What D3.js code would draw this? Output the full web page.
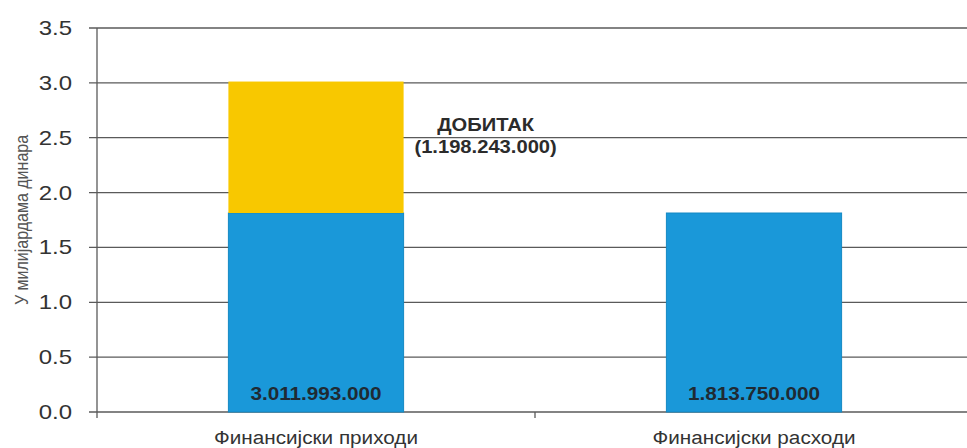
<!DOCTYPE html>
<html lang="sr">
<head>
    <meta charset="UTF-8">
    <title>Финансијски приходи и расходи</title>
    <script src="https://cdn.jsdelivr.net/npm/d3@7"></script>
    <style>
        body{ margin: 0; background: #fff; }
        svg{ display: block; font-family: Arial, "Liberation Sans", sans-serif; }
        .grid line{ stroke: #5a5a5a; stroke-width: 1.3; }
    </style>
</head>
<body>
    <svg id="main-svg" width="967" height="448"></svg>

    <script>
        // data (u milijardama dinara)
        const categories = ['Финансијски приходи', 'Финансијски расходи'];
        const baseValues = [1.81375, 1.81375];       // plavi deo
        const profitValues = [1.198243, 0];          // zuti deo (dobitak)
        const barLabels = ['3.011.993.000', '1.813.750.000'];
        const profitLabel = ['ДОБИТАК', '(1.198.243.000)'];
        const yTicks = [0, 0.5, 1, 1.5, 2, 2.5, 3, 3.5];
        const yTitle = 'У милијардама динара';

        const margin = {top: 28, left: 97, bottom: 36};
        const W = 967, H = 448;
        const plotRight = 973;

        const svg = d3.select('#main-svg');

        // text in the original looks a bit stretched sideways
        const wideText = (sel, x, y, sx) => sel
            .attr('transform', (d, i) => 'translate(' + x(d, i) + ',' + y(d, i) + ') scale(' + sx + ',1)');

        let x = d3.scaleBand()
            .domain(categories)
            .range([margin.left, plotRight])
            .paddingInner(0.6)
            .paddingOuter(0.3);

        let y = d3.scaleLinear()
            .domain([0, 3.5])
            .range([H - margin.bottom, margin.top]);

        // gridlines
        svg.append('g').attr('class', 'grid')
            .selectAll('line')
            .data(yTicks)
            .enter()
            .append('line')
            .attr('x1', margin.left - 8)
            .attr('x2', W)
            .attr('y1', d => y(d))
            .attr('y2', d => y(d));

        // y labels
        svg.append('g')
            .selectAll('text')
            .data(yTicks)
            .enter()
            .append('text')
            .call(wideText, () => margin.left - 25, d => y(d) + 7, 1.2)
            .attr('text-anchor', 'end')
            .style('font-size', '20px')
            .style('fill', '#333')
            .text(d => d.toFixed(1));

        // y axis line
        svg.append('line')
            .attr('x1', margin.left).attr('x2', margin.left)
            .attr('y1', y(3.5)).attr('y2', y(0) + 6)
            .style('stroke', '#5a5a5a').style('stroke-width', 1.3);

        // tick between categories
        let midX = (x(categories[0]) + x.bandwidth() + x(categories[1])) / 2;
        svg.append('line')
            .attr('x1', midX).attr('x2', midX)
            .attr('y1', y(0)).attr('y2', y(0) + 6)
            .style('stroke', '#5a5a5a').style('stroke-width', 1.3);

        // y title
        svg.append('text')
            .attr('transform', 'translate(28,220) rotate(-90) scale(1,1.15)')
            .attr('text-anchor', 'middle')
            .style('font-size', '16px')
            .style('fill', '#555')
            .text(yTitle);

        // blue bars
        svg.selectAll('.base-rect')
            .data(categories)
            .enter()
            .append('rect')
            .classed('base-rect', true)
            .attr('x', d => x(d))
            .attr('width', x.bandwidth())
            .attr('y', (d, i) => y(baseValues[i]))
            .attr('height', (d, i) => y(0) - y(baseValues[i]))
            .style('fill', '#1a98d9')
            .style('stroke', '#1589c4')
            .style('stroke-width', 1);

        // yellow (profit) part
        svg.selectAll('.profit-rect')
            .data(categories.filter((d, i) => profitValues[i] > 0))
            .enter()
            .append('rect')
            .classed('profit-rect', true)
            .attr('x', d => x(d))
            .attr('width', x.bandwidth())
            .attr('y', d => {
                let i = categories.indexOf(d);
                return y(baseValues[i] + profitValues[i]);
            })
            .attr('height', d => {
                let i = categories.indexOf(d);
                return y(baseValues[i]) - y(baseValues[i] + profitValues[i]);
            })
            .style('fill', '#f8c800');

        // value labels in bars
        svg.selectAll('.bar-label')
            .data(categories)
            .enter()
            .append('text')
            .call(wideText, d => x(d) + x.bandwidth() / 2, () => y(0) - 12, 1.15)
            .attr('text-anchor', 'middle')
            .style('font-size', '18px')
            .style('font-weight', 'bold')
            .style('fill', '#1f2a33')
            .text((d, i) => barLabels[i]);

        // profit annotation
        const ax = x(categories[0]) + x.bandwidth() + 82;
        svg.selectAll('.profit-label')
            .data(profitLabel)
            .enter()
            .append('text')
            .call(wideText, () => ax, (d, i) => 131 + i * 22, 1.12)
            .attr('text-anchor', 'middle')
            .style('font-size', '18px')
            .style('font-weight', 'bold')
            .style('fill', '#2b2b2b')
            .text(d => d);

        // category labels
        svg.selectAll('.cat-label')
            .data(categories)
            .enter()
            .append('text')
            .call(wideText, d => x(d) + x.bandwidth() / 2, () => H - 4, 1.09)
            .attr('text-anchor', 'middle')
            .style('font-size', '19px')
            .style('fill', '#333')
            .text(d => d);
    </script>
</body>
</html>
